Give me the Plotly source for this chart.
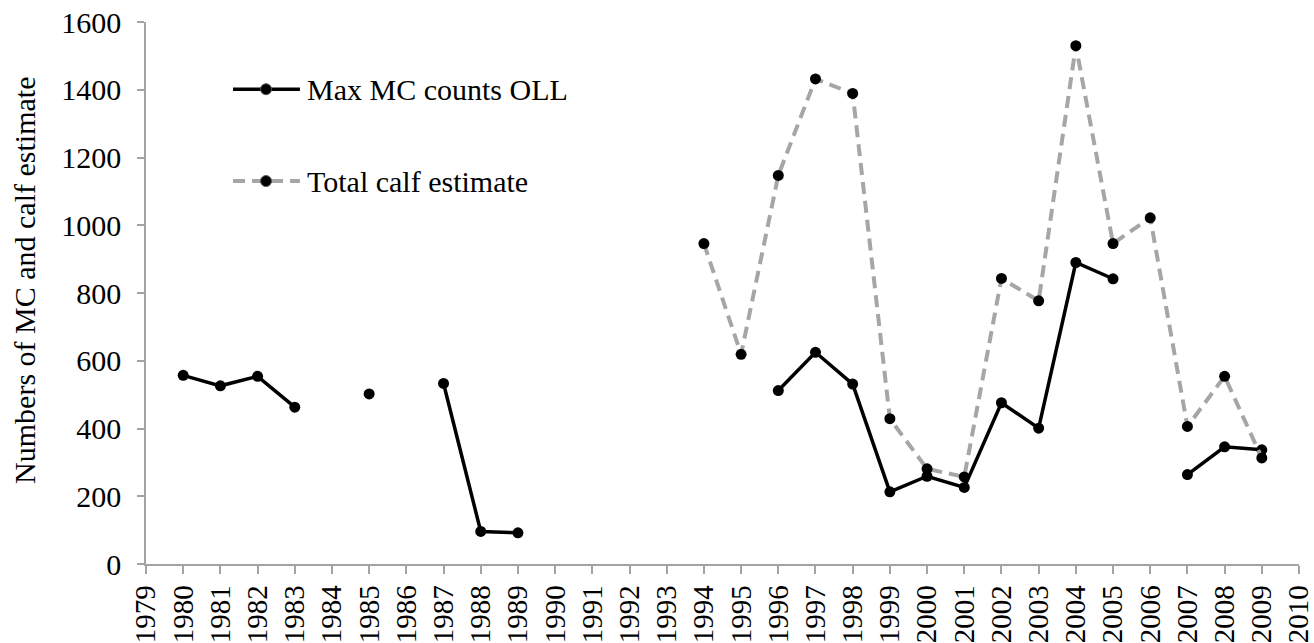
import plotly.graph_objects as go

years = list(range(1979, 2011))
tick_labels = [str(y) for y in years]

mc_years = [1980, 1981, 1982, 1983, 1984, 1985, 1986, 1987, 1988, 1989, 1990,
            1996, 1997, 1998, 1999, 2000, 2001, 2002, 2003, 2004, 2005, 2006,
            2007, 2008, 2009]
mc_counts = [557, 526, 554, 463, None, 502, None, 533, 96, 92, None,
             512, 625, 531, 213, 259, 226, 476, 401, 890, 842, None,
             264, 346, 337]

calf_years = list(range(1994, 2010))
calf_est = [946, 619, 1147, 1432, 1389, 429, 281, 257, 843, 777, 1530, 946,
            1022, 406, 554, 313]

series_names = ["Max MC counts OLL", "Total calf estimate"]
y_title = "Numbers of MC and calf estimate"

FONT = "Liberation Serif, Times New Roman, Times, serif"
AXIS_COL = "#a3a3a3"
GRAY = "#a6a6a6"

fig = go.Figure()
fig.add_trace(go.Scatter(
    x=mc_years, y=mc_counts, mode="lines+markers", name=series_names[0],
    connectgaps=False,
    line=dict(color="black", width=3.5),
    marker=dict(color="black", size=11),
    showlegend=False))
fig.add_trace(go.Scatter(
    x=calf_years, y=calf_est, mode="lines+markers", name=series_names[1],
    line=dict(color=GRAY, width=4, dash="12px,7px"),
    marker=dict(color="black", size=11),
    showlegend=False))

# custom legend (shapes + text)
shapes = []
annotations = []
leg_rows = [(0.876, "black", "solid", 3.5), (0.7066, GRAY, "12px,7px", 4)]
for (yy, col, dash, w), name in zip(leg_rows, series_names):
    shapes.append(dict(type="line", xref="paper", yref="paper",
                       x0=0.0755, x1=0.1335, y0=yy, y1=yy,
                       line=dict(color=col, width=w, dash=dash)))
    shapes.append(dict(type="circle", xref="paper", yref="paper",
                       xsizemode="pixel", ysizemode="pixel",
                       xanchor=0.1041, yanchor=yy,
                       x0=-5.5, x1=5.5, y0=-5.5, y1=5.5,
                       fillcolor="black", line=dict(color="#555555", width=1)))
    annotations.append(dict(xref="paper", yref="paper", x=0.1378, y=yy,
                            xanchor="left", yanchor="middle", text=name,
                            showarrow=False,
                            font=dict(family=FONT, size=30, color="black")))

# y-axis title
annotations.append(dict(xref="paper", yref="paper", x=-0.105, y=0.524,
                        xanchor="center", yanchor="middle", text=y_title,
                        textangle=-90, showarrow=False,
                        font=dict(family=FONT, size=30, color="black")))

fig.update_layout(
    width=1314, height=643,
    margin=dict(l=146, r=15, t=22, b=79),
    paper_bgcolor="white", plot_bgcolor="white",
    font=dict(family=FONT, color="black"),
    shapes=shapes, annotations=annotations,
    xaxis=dict(range=[1979, 2010], tickmode="array", tickvals=years,
               ticktext=tick_labels, tickangle=-90, automargin=False,
               ticklabeloverflow="allow",
               showgrid=False, zeroline=False,
               showline=True, linecolor=AXIS_COL, linewidth=1.5,
               ticks="outside", ticklen=8, tickcolor=AXIS_COL, tickwidth=1.5,
               ticklabelstandoff=0,
               tickfont=dict(family=FONT, size=29, color="black")),
    yaxis=dict(range=[0, 1600], tickmode="linear", tick0=0, dtick=200,
               automargin=False, ticklabeloverflow="allow",
               showgrid=False, zeroline=False,
               showline=True, linecolor=AXIS_COL, linewidth=1.5,
               ticks="outside", ticklen=7, tickcolor=AXIS_COL, tickwidth=1.5,
               ticklabelstandoff=10,
               tickfont=dict(family=FONT, size=30, color="black")),
)

# remove the default 8px page margin so the figure fills the window exactly
fig.write_html("out.html", config={"displayModeBar": False},
               post_script="document.body.style.margin='0';")
